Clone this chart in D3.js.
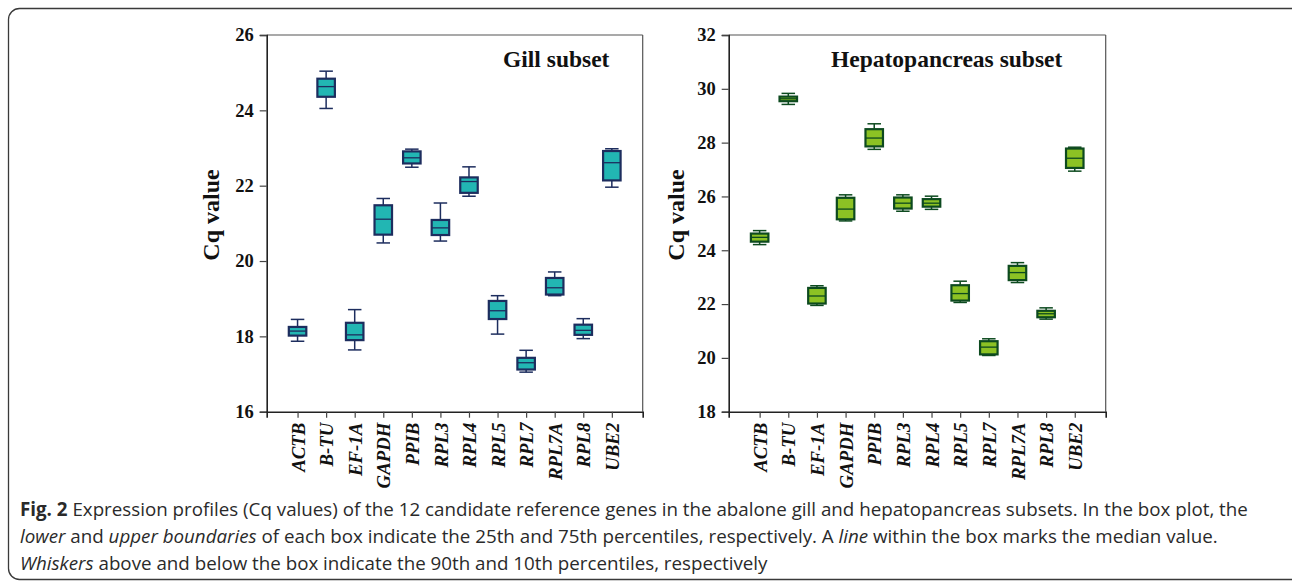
<!DOCTYPE html>
<html><head><meta charset="utf-8">
<script src="https://cdn.jsdelivr.net/npm/d3@7"></script>
<style>
html,body{margin:0;padding:0;background:#fff;}
svg{display:block;}
</style></head>
<body>
<svg id="chart" width="1292" height="584"></svg>
<script>
const genes = ["ACTB","B-TU","EF-1A","GAPDH","PPIB","RPL3","RPL4","RPL5","RPL7","RPL7A","RPL8","UBE2"];
// Gill subset: 10th, 25th, median, 75th, 90th percentiles
const gillP10 = [17.87,24.05,17.64,20.48,22.49,20.53,21.72,18.06,17.05,19.08,17.94,21.96];
const gillQ1  = [18.02,24.36,17.90,20.70,22.59,20.69,21.81,18.46,17.12,19.11,18.04,22.14];
const gillMed = [18.14,24.63,18.04,21.11,22.74,20.88,22.11,18.68,17.30,19.29,18.16,22.61];
const gillQ3  = [18.25,24.84,18.36,21.48,22.91,21.09,22.22,18.94,17.43,19.55,18.31,22.92];
const gillP90 = [18.45,25.04,18.71,21.66,22.97,21.54,22.50,19.08,17.63,19.71,18.47,22.98];
// Hepatopancreas subset
const hepP10 = [24.21,29.42,21.95,25.09,27.75,25.45,25.52,22.06,20.09,22.80,21.44,26.94];
const hepQ1  = [24.32,29.54,22.02,25.15,27.86,25.55,25.62,22.13,20.13,22.89,21.51,27.06];
const hepMed = [24.48,29.63,22.30,25.53,28.17,25.75,25.75,22.39,20.40,23.17,21.64,27.42];
const hepQ3  = [24.62,29.71,22.60,25.95,28.50,25.96,25.90,22.70,20.62,23.42,21.75,27.78];
const hepP90 = [24.73,29.83,22.68,26.06,28.70,26.06,26.01,22.85,20.71,23.54,21.86,27.83];
const gillTicks = [16,18,20,22,24,26];
const hepTicks = [18,20,22,24,26,28,30,32];

const svg = d3.select("#chart");
const serif = "'Liberation Serif','DejaVu Serif',serif";

// outer frame
svg.append("rect").attr("x",8.5).attr("y",8.5).attr("width",1300).attr("height",571)
  .attr("rx",11).attr("fill","none").attr("stroke","#3a3a3a").attr("stroke-width",1.3);

function panel(opts){
  const {x0,x1,y0,y1,domain,ticks,title,titleX,p10,q1,med,q3,p90,fill,stroke,whisk,labelX} = opts;
  const g = svg.append("g");
  const x = d3.scalePoint().domain(genes).range([x0,x1]).padding(1.08);
  const y = d3.scaleLinear().domain(domain).range([y1,y0]);
  g.append("line").attr("x1",x0).attr("x2",x1).attr("y1",y0).attr("y2",y0).attr("stroke","#555").attr("stroke-width",1.2);
  g.append("line").attr("x1",x1).attr("x2",x1).attr("y1",y0).attr("y2",y1).attr("stroke","#555").attr("stroke-width",1.2);
  const ya = g.append("g").attr("transform",`translate(${x0},0)`)
    .call(d3.axisLeft(y).tickValues(ticks).tickSize(7).tickPadding(6).tickFormat(d3.format("d")));
  ya.select(".domain").attr("stroke","#222").attr("stroke-width",1.6);
  ya.selectAll(".tick line").attr("stroke","#444").attr("stroke-width",1.2);
  ya.selectAll(".tick text").attr("font-family",serif).attr("font-weight","bold").attr("font-size",18.5).attr("fill","#111");
  const xa = g.append("g").attr("transform",`translate(0,${y1})`)
    .call(d3.axisBottom(x).tickSize(6).tickPadding(6));
  xa.select(".domain").attr("stroke","#222").attr("stroke-width",1.6);
  xa.selectAll(".tick line").attr("stroke","#444").attr("stroke-width",1.2);
  xa.selectAll(".tick text").attr("font-family",serif).attr("font-weight","bold").attr("font-style","italic")
    .attr("font-size",18.8).attr("fill","#111")
    .attr("text-anchor","end").attr("dy","0.35em")
    .attr("transform","rotate(-90)")
    .attr("x",-11).attr("y",0);
  g.append("text").attr("transform",`translate(${labelX},215) rotate(-90)`)
    .attr("text-anchor","middle").attr("font-family",serif).attr("font-weight","bold").attr("font-size",24)
    .attr("fill","#111").text("Cq value");
  g.append("text").attr("x",titleX).attr("y",67).attr("font-family",serif).attr("font-weight","bold")
    .attr("font-size",23.5).attr("fill","#111").text(title);
  const bw = 17.5, cw = 13.5;
  genes.forEach((gn,i)=>{
    const cx = x(gn);
    const b = g.append("g");
    b.append("line").attr("x1",cx).attr("x2",cx).attr("y1",y(p90[i])).attr("y2",y(q3[i])).attr("stroke",whisk).attr("stroke-width",1.5);
    b.append("line").attr("x1",cx).attr("x2",cx).attr("y1",y(q1[i])).attr("y2",y(p10[i])).attr("stroke",whisk).attr("stroke-width",1.5);
    [p90[i],p10[i]].forEach(v=>{
      b.append("line").attr("x1",cx-cw/2).attr("x2",cx+cw/2).attr("y1",y(v)).attr("y2",y(v)).attr("stroke",whisk).attr("stroke-width",1.5);
    });
    b.append("rect").attr("x",cx-bw/2).attr("y",y(q3[i])).attr("width",bw).attr("height",Math.max(1,y(q1[i])-y(q3[i])))
      .attr("fill",fill).attr("stroke",stroke).attr("stroke-width",2.2);
    b.append("line").attr("x1",cx-bw/2).attr("x2",cx+bw/2).attr("y1",y(med[i])).attr("y2",y(med[i])).attr("stroke",stroke).attr("stroke-width",1.3);
  });
}

panel({x0:266.7,x1:642.7,y0:35,y1:411.7,domain:[16,26],ticks:gillTicks,title:"Gill subset",titleX:503,
  p10:gillP10,q1:gillQ1,med:gillMed,q3:gillQ3,p90:gillP90,fill:"#22b6b3",stroke:"#1d2d5e",whisk:"#1d2d5e",labelX:219});
panel({x0:728.7,x1:1105.7,y0:35,y1:411.7,domain:[18,32],ticks:hepTicks,title:"Hepatopancreas subset",titleX:831,
  p10:hepP10,q1:hepQ1,med:hepMed,q3:hepQ3,p90:hepP90,fill:"#8cc224",stroke:"#0d4a1f",whisk:"#0d4a1f",labelX:684});

const cap = svg.append("g").attr("font-family","'Open Sans','Noto Sans',sans-serif").attr("font-size",18.75).attr("fill","#2a2a2a");
const l1 = cap.append("text").attr("x",20).attr("y",516);
l1.append("tspan").attr("font-weight","bold").text("Fig. 2");
l1.append("tspan").text(" Expression profiles (Cq values) of the 12 candidate reference genes in the abalone gill and hepatopancreas subsets. In the box plot, the");
const l2 = cap.append("text").attr("x",20).attr("y",543);
l2.append("tspan").attr("font-style","italic").text("lower");
l2.append("tspan").text(" and ");
l2.append("tspan").attr("font-style","italic").text("upper boundaries");
l2.append("tspan").text(" of each box indicate the 25th and 75th percentiles, respectively. A ");
l2.append("tspan").attr("font-style","italic").text("line");
l2.append("tspan").text(" within the box marks the median value.");
const l3 = cap.append("text").attr("x",20).attr("y",570);
l3.append("tspan").attr("font-style","italic").text("Whiskers");
l3.append("tspan").text(" above and below the box indicate the 90th and 10th percentiles, respectively");
</script>
</body></html>
